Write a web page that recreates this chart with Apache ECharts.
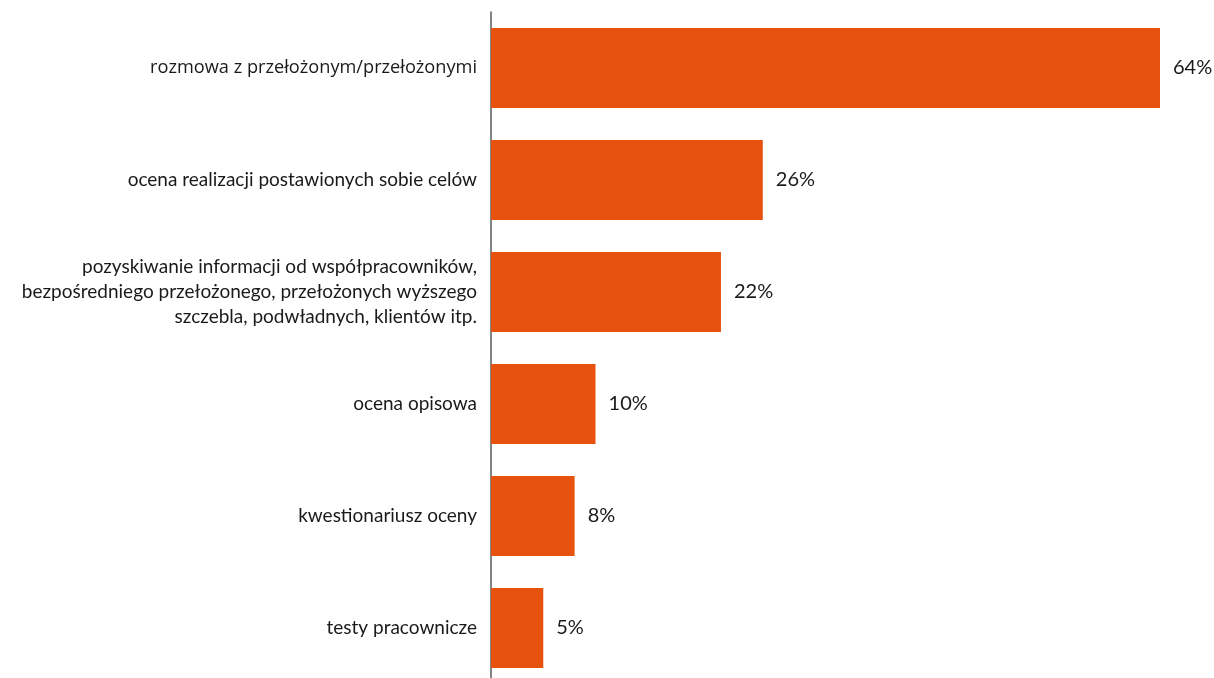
<!DOCTYPE html>
<html>
<head>
<meta charset="utf-8">
<script src="https://cdn.jsdelivr.net/npm/echarts@6/dist/echarts.min.js"></script>
<style>
  html, body { margin: 0; padding: 0; background: #ffffff; overflow: hidden; }
  #chart { width: 1214px; height: 690px; }
</style>
</head>
<body>
<div id="chart"></div>
<script>
// Categories, top to bottom
const categories = [
  'rozmowa z przełożonym/przełożonymi',
  'ocena realizacji postawionych sobie celów',
  'pozyskiwanie informacji od współpracowników,\nbezpośredniego przełożonego, przełożonych wyższego\nszczebla, podwładnych, klientów itp.',
  'ocena opisowa',
  'kwestionariusz oceny',
  'testy pracownicze'
];
// Share of answers, percent
const values = [64, 26, 22, 10, 8, 5];

const FONT = 'Lato, "Open Sans", sans-serif';

const chart = echarts.init(document.getElementById('chart'), null, { renderer: 'canvas' });
chart.setOption({
  animation: false,
  backgroundColor: '#ffffff',
  grid: { left: 491, top: 12, width: 669, height: 672, containLabel: false },
  xAxis: {
    type: 'value',
    min: 0,
    max: 64,
    show: false
  },
  yAxis: {
    type: 'category',
    inverse: true,
    data: categories,
    axisLine: { show: true, lineStyle: { color: '#595959', width: 1.5 } },
    axisTick: { show: false },
    axisLabel: {
      margin: 14,
      color: '#1a1a1a',
      fontFamily: FONT,
      fontSize: 19,
      lineHeight: 25,
      align: 'right',
      // the first category is set in a wider face
      formatter: (v, i) => i === 0 ? '{wide|' + v + '}' : v,
      rich: {
        wide: {
          fontFamily: '"Open Sans", sans-serif',
          fontSize: 18.2,
          color: '#1a1a1a'
        }
      }
    }
  },
  series: [{
    type: 'bar',
    data: values,
    barCategoryGap: '28.6%',
    itemStyle: { color: '#E8520F' },
    label: {
      show: true,
      position: 'right',
      distance: 13,
      formatter: p => p.value + '%',
      color: '#1a1a1a',
      fontFamily: FONT,
      fontSize: 20
    }
  }]
});
</script>
</body>
</html>
